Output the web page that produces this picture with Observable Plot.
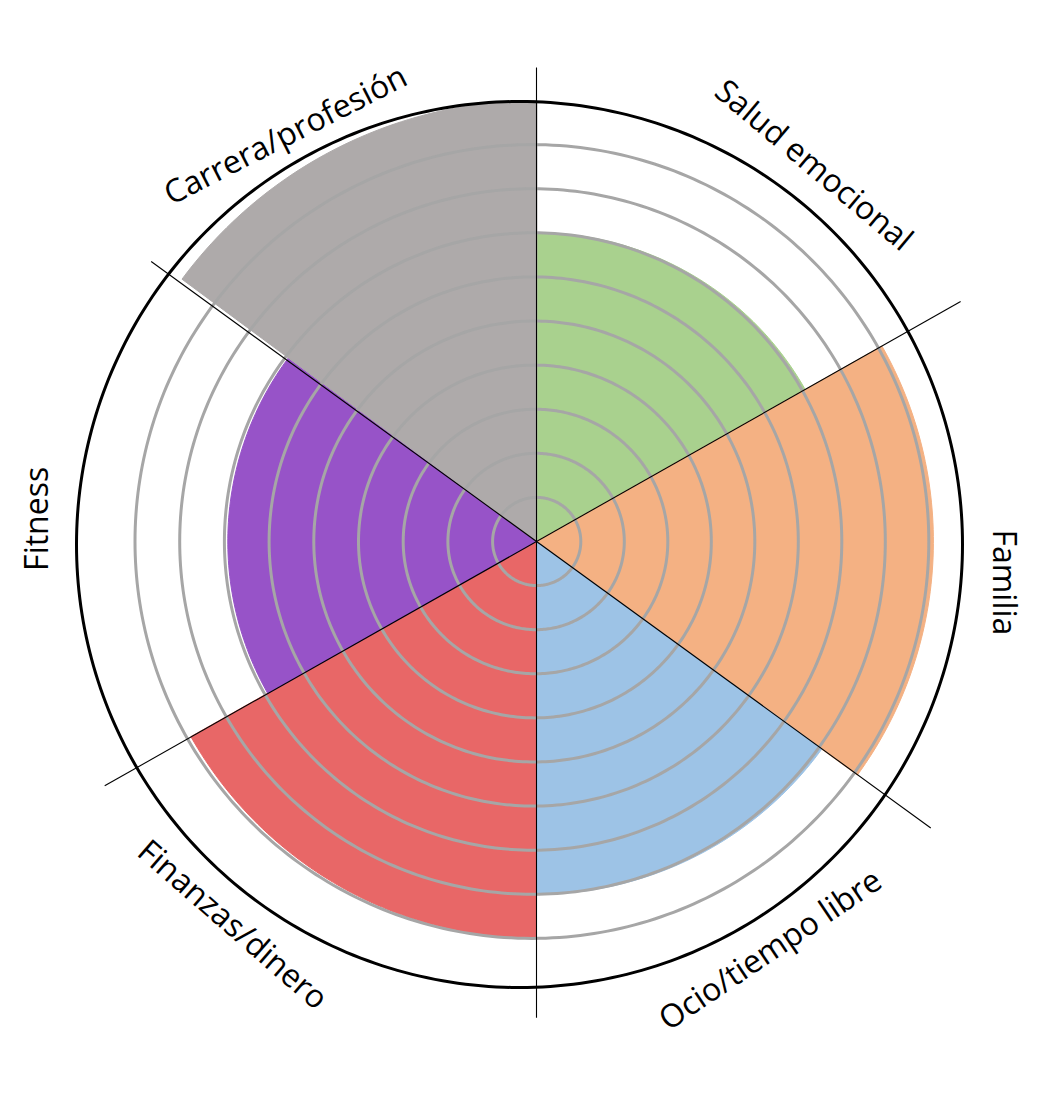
<!DOCTYPE html>
<html>
<head>
<meta charset="utf-8">
<script src="https://cdn.jsdelivr.net/npm/d3@7"></script>
<script src="https://cdn.jsdelivr.net/npm/@observablehq/plot@0.6"></script>
<style>
  html, body { margin: 0; padding: 0; background: #fff; }
  #chart svg { display: block; }
</style>
</head>
<body>
<div id="chart"></div>
<script>
// ---- data ----
const categories = ["Salud emocional", "Familia", "Ocio/tiempo libre", "Finanzas/dinero", "Fitness", "Carrera/profesión"];
const scores = [7, 9, 8, 9, 7, 10];
const ringLevels = [1, 2, 3, 4, 5, 6, 7, 8, 9];
const maxLevel = 10;
const colors = ["#A9D18E", "#F4B183", "#9DC3E6", "#E86767", "#9753C8", "#AEAAAA"];

// ---- layout (degrees clockwise from top) ----
const sectorEdges = [0, 60.5, 126, 180, 240.5, 306.5, 360];
const dividers = [ // angle, length forward, length backward (in level units)
  {a: 0, f: 10.75, b: 10.8},
  {a: 60.5, f: 11.05, b: 11.25},
  {a: 126, f: 11.05, b: 10.8}
];
const labelAngle = [36.4, 95, 150.2, 218.4, 272.6, 328.3];
const labelRadius = [10.59, 10.63, 10.68, 11.1, 11.33, 10.82];
const labelRotate = [40, 90, -34, 41, -90, -27];

const W = 1039, H = 1094, cx = 536, cy = 541, u = 44.1;
const rad = d => d * Math.PI / 180;
const px = (r, a) => r * Math.sin(rad(a));
const py = (r, a) => r * Math.cos(rad(a));

// sector polygons
const sectorPts = [];
categories.forEach((c, i) => {
  const a0 = sectorEdges[i], a1 = sectorEdges[i + 1];
  sectorPts.push({cat: c, x: 0, y: 0});
  const n = Math.ceil(a1 - a0);
  for (let k = 0; k <= n; k++) {
    const a = a0 + (a1 - a0) * k / n;
    sectorPts.push({cat: c, x: px(scores[i], a), y: py(scores[i], a)});
  }
});

// rings (hand-drawn rings drift slightly left as they grow)
const ringPts = [];
ringLevels.forEach(l => {
  const dx = (0.8 - 0.6 * l) / u;
  for (let a = 0; a < 360; a += 1) ringPts.push({l, x: dx + px(l, a), y: py(l, a)});
});
// outer black circle (slightly offset, as in reference)
const ox = -17 / u, oy = -3 / u, oR = 443 / u;
const outerPts = [];
for (let a = 0; a < 360; a += 1) outerPts.push({x: ox + px(oR, a), y: oy + py(oR, a)});

const lines = dividers.map(d => ({
  x1: px(d.f, d.a), y1: py(d.f, d.a),
  x2: px(d.b, d.a + 180), y2: py(d.b, d.a + 180)
}));

const labels = categories.map((c, i) => ({
  text: c,
  x: px(labelRadius[i], labelAngle[i]),
  y: py(labelRadius[i], labelAngle[i]),
  rot: labelRotate[i]
}));

const chart = Plot.plot({
  width: W, height: H,
  marginTop: 0, marginRight: 0, marginBottom: 0, marginLeft: 0,
  x: {domain: [-cx / u, (W - cx) / u], range: [0, W], axis: null},
  y: {domain: [-(H - cy) / u, cy / u], range: [H, 0], axis: null},
  color: {domain: categories, range: colors},
  style: {fontFamily: "'Open Sans', sans-serif", background: "white"},
  marks: [
    Plot.line(sectorPts, {x: "x", y: "y", z: "cat", fill: "cat", stroke: "cat", strokeWidth: 1, curve: "linear-closed"}),
    Plot.line(ringPts, {x: "x", y: "y", z: "l", stroke: "#A6A6A6", strokeWidth: 3, curve: "linear-closed"}),
    Plot.line(outerPts, {x: "x", y: "y", stroke: "#000", strokeWidth: 3, curve: "linear-closed"}),
    Plot.link(lines, {x1: "x1", y1: "y1", x2: "x2", y2: "y2", stroke: "#000", strokeWidth: 1.1}),
    Plot.text(labels, {x: "x", y: "y", text: "text", rotate: "rot", fontSize: 32, fill: "#000", textAnchor: "middle", lineAnchor: "middle"})
  ]
});
document.getElementById("chart").appendChild(chart);
</script>
</body>
</html>
